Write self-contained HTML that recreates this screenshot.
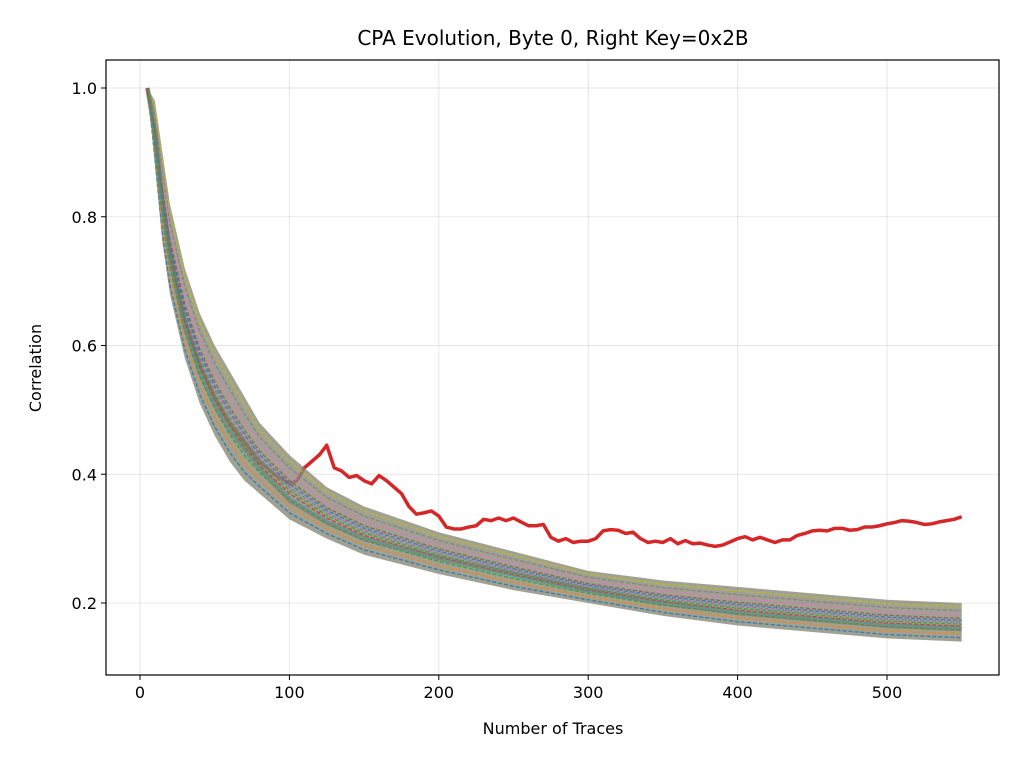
<!DOCTYPE html>
<html><head><meta charset="utf-8"><style>
body{margin:0;background:#fff;font-family:"Liberation Sans","DejaVu Sans",sans-serif}
svg text{font-family:"DejaVu Sans","Liberation Sans",sans-serif;fill:#000}
</style></head><body>
<svg id="chart" width="1024" height="768" xmlns="http://www.w3.org/2000/svg">
<rect width="1024" height="768" fill="#fff"/>
<text x="553" y="45" font-size="20" text-anchor="middle">CPA Evolution, Byte 0, Right Key=0x2B</text>
<text x="553" y="734" font-size="16" text-anchor="middle">Number of Traces</text>
<text x="41" y="368" font-size="16" text-anchor="middle" transform="rotate(-90 41 368)">Correlation</text>
<g id="grid"></g><g id="red"></g><g id="band"></g><g id="lines"></g><g id="axes"></g>
</svg>
<script>
const xTicks=[0,100,200,300,400,500];
const yTicks=[0.2,0.4,0.6,0.8,1.0];
const bandX=[5,10,15,20,30,40,50,60,70,80,100,125,150,200,250,300,350,400,450,500,550];
const bandMean=[1.0,0.93,0.82,0.74,0.63,0.56,0.51,0.47,0.44,0.41,0.36,0.325,0.3,0.27,0.245,0.22,0.2,0.185,0.175,0.165,0.16];
const bandUpper=[1.0,0.98,0.9,0.82,0.72,0.65,0.6,0.56,0.52,0.48,0.43,0.38,0.35,0.31,0.28,0.25,0.235,0.225,0.215,0.205,0.2];
const bandLower=[1.0,0.88,0.76,0.68,0.58,0.51,0.46,0.42,0.39,0.37,0.33,0.3,0.275,0.245,0.22,0.2,0.18,0.165,0.155,0.145,0.14];
const wrongOffsets=[0.1,0.2,0.3,0.4,0.5,0.6,0.7,0.8,0.9,0.35,0.55,0.45];
const wrongColors=['#1f77b4','#ff7f0e','#2ca02c','#d62728','#9467bd','#8c564b','#e377c2','#7f7f7f','#bcbd22','#17becf','#1f77b4','#2ca02c'];
const redX=[5,10,15,20,25,30,40,50,60,70,80,90,100,105,110,115,120,125,130,135,140,145,150,155,160,165,170,175,180,185,190,195,200,205,210,215,220,225,230,235,240,245,250,255,260,265,270,275,280,285,290,295,300,305,310,315,320,325,330,335,340,345,350,355,360,365,370,375,380,385,390,395,400,405,410,415,420,425,430,435,440,445,450,455,460,465,470,475,480,485,490,495,500,505,510,515,520,525,530,535,540,545,550];
const redY=[1.0,0.93,0.83,0.75,0.69,0.64,0.57,0.52,0.48,0.45,0.42,0.40,0.385,0.39,0.41,0.42,0.43,0.445,0.41,0.405,0.395,0.398,0.39,0.385,0.398,0.39,0.38,0.37,0.35,0.338,0.34,0.343,0.335,0.318,0.315,0.315,0.318,0.32,0.33,0.328,0.332,0.328,0.332,0.326,0.32,0.32,0.322,0.302,0.296,0.3,0.294,0.296,0.296,0.3,0.312,0.314,0.313,0.308,0.31,0.3,0.294,0.296,0.294,0.3,0.292,0.297,0.292,0.293,0.29,0.288,0.29,0.295,0.3,0.303,0.298,0.302,0.298,0.294,0.298,0.298,0.305,0.308,0.312,0.313,0.312,0.316,0.316,0.313,0.314,0.318,0.318,0.32,0.323,0.325,0.328,0.327,0.325,0.322,0.323,0.326,0.328,0.33,0.334];
const NS='http://www.w3.org/2000/svg';
const X=v=>140+v*1.494, Y=v=>603-(v-0.2)*643.75;
function mk(t,a,p){const e=document.createElementNS(NS,t);for(const k in a)e.setAttribute(k,a[k]);p.appendChild(e);return e;}
const grid=document.getElementById('grid'),axes=document.getElementById('axes'),band=document.getElementById('band'),lines=document.getElementById('lines'),red=document.getElementById('red');
xTicks.forEach(t=>{const g=mk('line',{x1:X(t),x2:X(t),y1:60,y2:675,stroke:'#b0b0b0','stroke-opacity':0.3,'stroke-width':1},grid);

mk('line',{x1:X(t),x2:X(t),y1:675,y2:680,stroke:'#000'},axes);
const tx=mk('text',{x:X(t),y:698,'font-size':16,'text-anchor':'middle'},axes);tx.textContent=t;
});
yTicks.forEach(t=>{const g=mk('line',{x1:106,x2:999,y1:Y(t),y2:Y(t),stroke:'#b0b0b0','stroke-opacity':0.3,'stroke-width':1},grid);

mk('line',{x1:101,x2:106,y1:Y(t),y2:Y(t),stroke:'#000'},axes);
const tx=mk('text',{x:97,y:Y(t)+6,'font-size':16,'text-anchor':'end'},axes);tx.textContent=t.toFixed(1);
});
const fr=mk('rect',{x:106,y:60,width:893,height:615,fill:'none',stroke:'#000','stroke-width':1.2},axes);

let r='';redX.forEach((x,i)=>r+=(i?'L':'M')+X(x)+','+Y(redY[i]));
const rl=mk('path',{d:r,fill:'none',stroke:'#d62728','stroke-width':3.5,'stroke-linejoin':'round'},red);

let d='';bandX.forEach((x,i)=>d+=(i?'L':'M')+X(x)+','+Y(bandUpper[i]));
for(let i=bandX.length-1;i>=0;i--)d+='L'+X(bandX[i])+','+Y(bandLower[i]);
const bp=mk('path',{d:d+'Z',fill:'#8a8a78','fill-opacity':0.8,stroke:'none'},band);

wrongOffsets.forEach((o,j)=>{let p='';bandX.forEach((x,i)=>{const v=bandLower[i]+(bandUpper[i]-bandLower[i])*o;p+=(i?'L':'M')+X(x)+','+Y(v);});
const l=mk('path',{d:p,fill:'none',stroke:wrongColors[j],'stroke-width':1.4,'stroke-dasharray':'4,2','stroke-opacity':0.8},lines);
});
let m='';bandX.forEach((x,i)=>m+=(i?'L':'M')+X(x)+','+Y(bandMean[i]));
const ml=mk('path',{d:m,fill:'none',stroke:'#6a7a6a','stroke-width':5,'stroke-opacity':0.5},lines);

</script>
</body></html>
